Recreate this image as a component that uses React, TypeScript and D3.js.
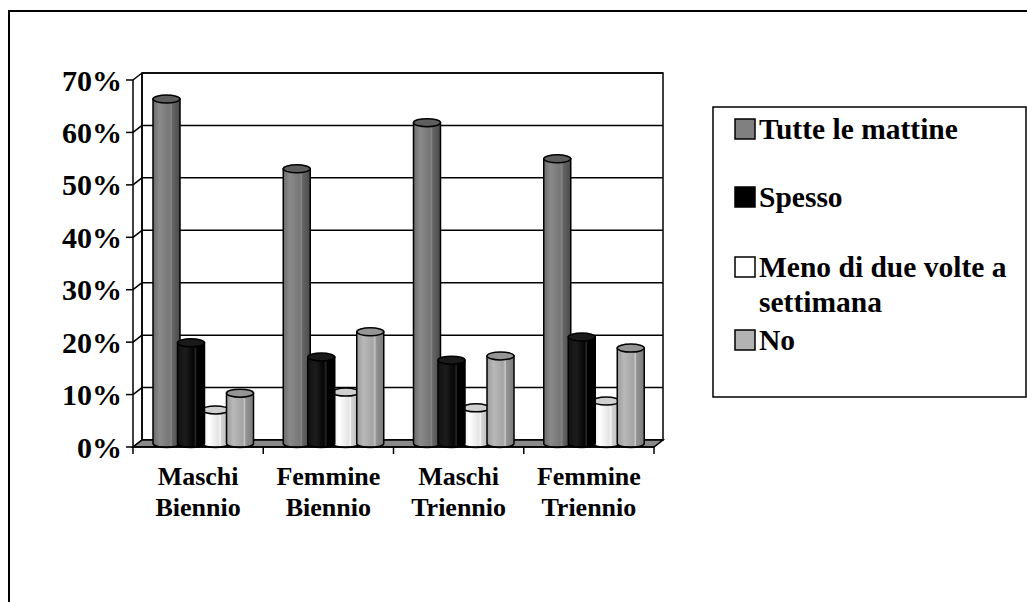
import React from "react";
import * as d3 from "d3";

const categories = ["Maschi Biennio", "Femmine Biennio", "Maschi Triennio", "Femmine Triennio"];
const seriesNames = ["Tutte le mattine", "Spesso", "Meno di due volte a settimana", "No"];
const tutte = [0.657, 0.524, 0.612, 0.543];
const spesso = [0.192, 0.165, 0.159, 0.203];
const meno = [0.064, 0.098, 0.068, 0.081];
const no = [0.096, 0.213, 0.167, 0.182];
const yTicks = [0, 0.1, 0.2, 0.3, 0.4, 0.5, 0.6, 0.7];
const legendLines = [["Tutte le mattine"], ["Spesso"], ["Meno di due volte a", "settimana"], ["No"]];

const seriesValues = [tutte, spesso, meno, no];
const legendColors = ["#808080", "#000000", "#ffffff", "#b3b3b3"];
const gradients = [
  [["0", "#6a6a6a"], ["0.25", "#8a8a8a"], ["0.6", "#767676"], ["0.68", "#868686"], ["0.71", "#666666"], ["1", "#4a4a4a"]],
  [["0", "#111"], ["0.3", "#1c1c1c"], ["0.6", "#050505"], ["0.68", "#2a2a2a"], ["0.71", "#000"], ["1", "#000"]],
  [["0", "#eaeaea"], ["0.25", "#ffffff"], ["0.6", "#e4e4e4"], ["0.68", "#f4f4f4"], ["0.71", "#d4d4d4"], ["1", "#b6b6b6"]],
  [["0", "#9a9a9a"], ["0.25", "#b8b8b8"], ["0.6", "#a4a4a4"], ["0.68", "#c8c8c8"], ["0.71", "#959595"], ["1", "#7a7a7a"]],
];
const topColors = ["#5e5e5e", "#1a1a1a", "#d0d0d0", "#959595"];

const FONT = "'Liberation Serif', 'Times New Roman', serif";
const DX = 9;
const DY = -7;

export default function App() {
  const yFront = d3.scaleLinear().domain([0, 0.7]).range([447, 80]);
  const xFront = d3.scaleBand().domain(categories).range([133, 654]);
  const bw = xFront.bandwidth();
  const inner = d3.scaleLinear().domain([0, 1]).range([0, 24.5]);
  const barW = 27;
  const ry = 4;
  const yMid = (v: number) => yFront(v) + DY / 2;
  const drawOrder = [0, 2, 1, 3];

  const x0 = xFront.range()[0];
  const x1 = xFront.range()[1];

  return (
    <svg width={1027} height={602} style={{ position: "absolute", left: 0, top: 0, background: "#fff" }}>
      <defs>
        {gradients.map((g, i) => (
          <linearGradient key={i} id={`g${i}`} x1="0" x2="1" y1="0" y2="0">
            {g.map(([o, c], j) => (
              <stop key={j} offset={o} stopColor={c} />
            ))}
          </linearGradient>
        ))}
      </defs>
      {/* outer frame */}
      <rect x={9} y={11} width={1040} height={620} fill="none" stroke="#000" strokeWidth={2} />

      {/* back wall */}
      <rect x={x0 + DX} y={yFront(0.7) + DY} width={x1 - x0} height={yFront(0) - yFront(0.7)} fill="#fff" stroke="#000" strokeWidth={1.5} />
      {yTicks.map((t) => (
        <g key={t}>
          <line x1={x0 + DX} x2={x1 + DX} y1={yFront(t) + DY} y2={yFront(t) + DY} stroke="#000" strokeWidth={1.5} />
          <line x1={x0} x2={x0 + DX} y1={yFront(t)} y2={yFront(t) + DY} stroke="#000" strokeWidth={1.5} />
        </g>
      ))}
      {/* side wall */}
      <line x1={x0} x2={x0} y1={yFront(0.7)} y2={yFront(0)} stroke="#000" strokeWidth={1.5} />
      <line x1={x0 + DX} x2={x0 + DX} y1={yFront(0.7) + DY} y2={yFront(0) + DY} stroke="#000" strokeWidth={1.5} />

      {/* floor */}
      <polygon
        points={`${x0},${yFront(0)} ${x1},${yFront(0)} ${x1 + DX},${yFront(0) + DY} ${x0 + DX},${yFront(0) + DY}`}
        fill="#8a8a8a"
        stroke="#000"
        strokeWidth={1.5}
      />

      {/* bars */}
      {categories.map((c, ci) => {
        const gx = (xFront(c) as number) + 20;
        return (
          <g key={c}>
            {drawOrder.map((si) => {
              const v = seriesValues[si][ci];
              const bx = gx + inner(si);
              const yt = yMid(v);
              const yb = yMid(0);
              const rx = barW / 2;
              const d = `M${bx},${yt} L${bx},${yb} A${rx},${ry} 0 0 0 ${bx + barW},${yb} L${bx + barW},${yt} Z`;
              return (
                <g key={si}>
                  <path d={d} fill={`url(#g${si})`} stroke="#000" strokeWidth={1.5} />
                  <ellipse cx={bx + rx} cy={yt} rx={rx} ry={ry} fill={topColors[si]} stroke="#000" strokeWidth={1.5} />
                </g>
              );
            })}
          </g>
        );
      })}

      {/* x axis */}
      <line x1={x0} x2={x1} y1={yFront(0)} y2={yFront(0)} stroke="#000" strokeWidth={1.5} />
      {[...categories.map((c) => xFront(c) as number), x1].map((x, i) => (
        <line key={i} x1={x} x2={x} y1={yFront(0)} y2={yFront(0) + 7} stroke="#000" strokeWidth={1.5} />
      ))}
      {categories.map((c) => {
        const cx = (xFront(c) as number) + bw / 2;
        const parts = c.split(" ");
        return (
          <text key={c} x={cx} textAnchor="middle" fontFamily={FONT} fontWeight="bold" fontSize={26} fill="#000">
            <tspan x={cx} y={485}>{parts[0]}</tspan>
            <tspan x={cx} y={516}>{parts[1]}</tspan>
          </text>
        );
      })}

      {/* y axis */}
      {yTicks.map((t) => (
        <g key={t}>
          <line x1={x0 - 7} x2={x0} y1={yFront(t)} y2={yFront(t)} stroke="#000" strokeWidth={1.5} />
          <text x={122} y={yFront(t) + 10.5} textAnchor="end" fontFamily={FONT} fontWeight="bold" fontSize={30} fill="#000">
            {d3.format(".0%")(t)}
          </text>
        </g>
      ))}

      {/* legend */}
      <rect x={713} y={107} width={313} height={290} fill="#fff" stroke="#000" strokeWidth={1.5} />
      {seriesNames.map((s, i) => {
        const baselines = [139, 207, 277, 350];
        const by = baselines[i];
        return (
          <g key={s}>
            <rect x={735} y={by - 20} width={20} height={20} fill={legendColors[i]} stroke="#000" strokeWidth={1.5} />
            <text fontFamily={FONT} fontWeight="bold" fontSize={29.5} fill="#000">
              {legendLines[i].map((l, j) => (
                <tspan key={j} x={759} y={by + j * 35}>{l}</tspan>
              ))}
            </text>
          </g>
        );
      })}
    </svg>
  );
}
